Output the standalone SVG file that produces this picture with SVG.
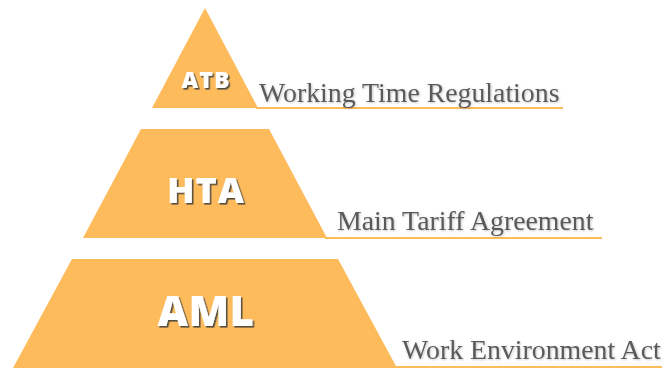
<svg xmlns="http://www.w3.org/2000/svg" width="664" height="369" viewBox="0 0 664 369">
  <defs>
    <filter id="tierShadow" x="-20%" y="-20%" width="140%" height="140%">
      <feDropShadow dx="1.6" dy="1.6" stdDeviation="0.7" flood-color="#3a3a3a" flood-opacity="0.85"/>
    </filter>
    <filter id="captionShadow" x="-5%" y="-20%" width="110%" height="140%">
      <feDropShadow dx="0.8" dy="0.8" stdDeviation="0.8" flood-color="#000" flood-opacity="0.25"/>
    </filter>
  </defs>
  <style>
    .tier { fill: #FDBB5B; }
    .rule { stroke: #FDBB5B; stroke-width: 2.2; fill: none; }
    .abbr { font-family: "Open Sans", "Liberation Sans", sans-serif; font-weight: 800; fill: #ffffff; text-anchor: middle; filter: url(#tierShadow); }
    .caption { font-family: "Liberation Serif", "Times New Roman", serif; font-size: 27.8px; fill: #5a5a5a; filter: url(#captionShadow); }
  </style>

  <rect width="664" height="369" fill="#ffffff"/>

  <!-- Top tier: Working Time Regulations -->
  <g id="atb">
    <polygon class="tier" points="205,8 258,108 152,108"/>
    <line class="rule" x1="256" y1="108" x2="563" y2="108"/>
    <text class="abbr" x="206" y="88" font-size="23" letter-spacing="1">ATB</text>
    <text class="caption" x="259" y="102">Working Time Regulations</text>
  </g>

  <!-- Middle tier: Main Tariff Agreement -->
  <g id="hta">
    <polygon class="tier" points="141,129 269,129 327,238 83,238"/>
    <line class="rule" x1="325" y1="238" x2="602" y2="238"/>
    <text class="abbr" x="206" y="203" font-size="36" letter-spacing="1">HTA</text>
    <text class="caption" x="337" y="230">Main Tariff Agreement</text>
  </g>

  <!-- Bottom tier: Work Environment Act -->
  <g id="aml">
    <polygon class="tier" points="72,259 338,259 397,368 13,368"/>
    <line class="rule" x1="395" y1="367" x2="662" y2="367"/>
    <text class="abbr" x="206" y="326" font-size="42" letter-spacing="0.5">AML</text>
    <text class="caption" x="402" y="359">Work Environment Act</text>
  </g>
</svg>
